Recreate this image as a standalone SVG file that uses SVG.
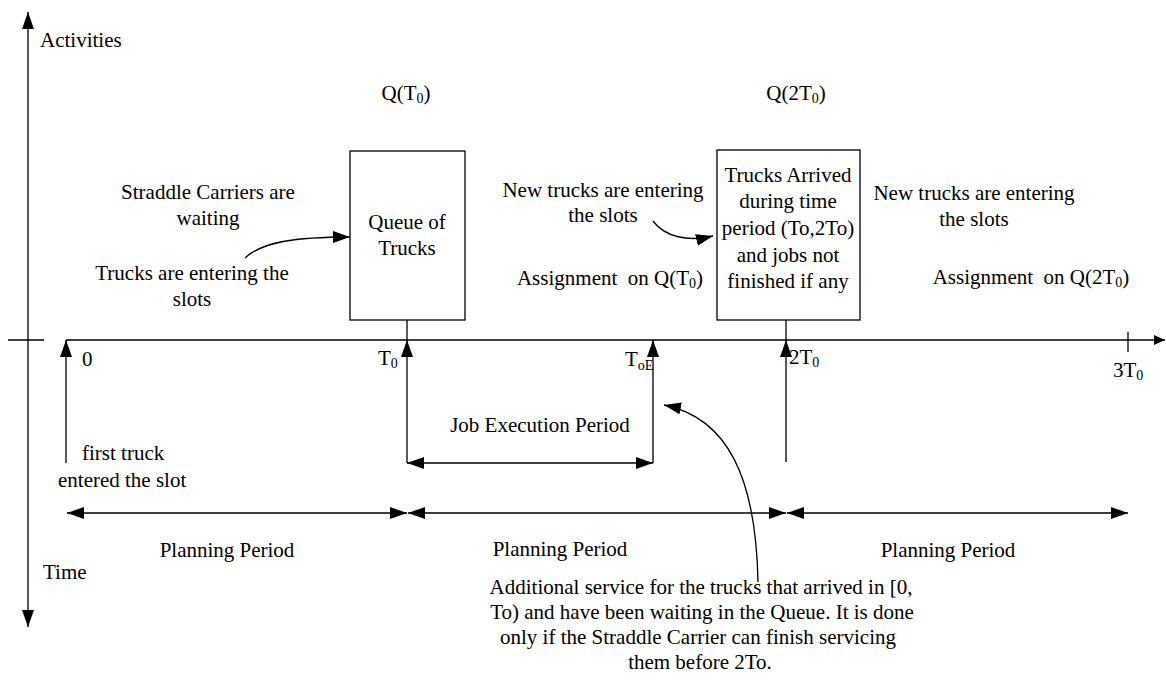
<svg xmlns="http://www.w3.org/2000/svg" width="1166" height="682" viewBox="0 0 1166 682" font-family="'Liberation Serif', 'Times New Roman', serif">
<style>
text{font-family:"Liberation Serif","Times New Roman",serif;font-size:21px;fill:#000;white-space:pre}
.m{text-anchor:middle}
.ln{stroke:#000;stroke-width:1.3;fill:none}
.box{stroke:#000;stroke-width:1.3;fill:#fff}
.sub{font-size:14px}
</style>
<defs>
<marker id="ah" markerUnits="userSpaceOnUse" markerWidth="18" markerHeight="12" refX="17" refY="6" orient="auto-start-reverse">
<path d="M0,0 L17,6 L0,12 z" fill="#000"/>
</marker>
<marker id="ahs" markerUnits="userSpaceOnUse" markerWidth="12" markerHeight="10" refX="11" refY="5" orient="auto-start-reverse">
<path d="M0,0 L11,5 L0,10 z" fill="#000"/>
</marker>
</defs>

<g id="axes">
<line class="ln" x1="28" y1="627" x2="28" y2="12" marker-end="url(#ah)" marker-start="url(#ah)"/>
<line class="ln" x1="8" y1="340" x2="44" y2="340"/>
<line class="ln" x1="66" y1="340" x2="1165" y2="340" marker-end="url(#ahs)"/>
<line class="ln" x1="1128" y1="332" x2="1128" y2="352"/>
<text x="40" y="47">Activities</text>
<text x="43" y="579">Time</text>
<text x="82" y="366">0</text>
<text x="378" y="365">T<tspan class="sub" dy="3">0</tspan></text>
<text x="625" y="366">T<tspan class="sub" dy="4">oE</tspan></text>
<text x="789" y="364">2T<tspan class="sub" dy="3">0</tspan></text>
<text x="1113" y="377">3T<tspan class="sub" dy="3">0</tspan></text>
</g>

<g id="connectors">
<line class="ln" x1="66" y1="463" x2="66" y2="340" marker-end="url(#ah)"/>
<line class="ln" x1="407" y1="320" x2="407" y2="340"/>
<line class="ln" x1="407" y1="463" x2="407" y2="340" marker-end="url(#ah)"/>
<line class="ln" x1="653" y1="463" x2="653" y2="340" marker-end="url(#ah)"/>
<line class="ln" x1="786" y1="320" x2="786" y2="340"/>
<line class="ln" x1="786" y1="462" x2="786" y2="340" marker-end="url(#ah)"/>
<line class="ln" x1="407" y1="463" x2="653" y2="463" marker-start="url(#ah)" marker-end="url(#ah)"/>
<line class="ln" x1="67" y1="513" x2="407" y2="513" marker-start="url(#ah)" marker-end="url(#ah)"/>
<line class="ln" x1="408" y1="513" x2="786" y2="513" marker-start="url(#ah)" marker-end="url(#ah)"/>
<line class="ln" x1="787" y1="513" x2="1128" y2="513" marker-start="url(#ah)" marker-end="url(#ah)"/>
<path class="ln" d="M245,258 C262,242 295,237 350,237" marker-end="url(#ah)"/>
<path class="ln" d="M653,221 C665,237 688,242 713,236" marker-end="url(#ah)"/>
<path class="ln" d="M758,582 C756,478 728,418 664,405" marker-end="url(#ah)"/>
</g>

<g id="queue-box">
<rect class="box" x="350" y="151" width="115" height="169"/>
<text class="m" x="407" y="229">Queue of</text>
<text class="m" x="407" y="255">Trucks</text>
</g>

<g id="arrived-box">
<rect class="box" x="717" y="150" width="143" height="170"/>
<text class="m" x="788" y="182">Trucks Arrived</text>
<text class="m" x="788" y="208">during time</text>
<text class="m" x="788" y="235">period (To,2To)</text>
<text class="m" x="788" y="262">and jobs not</text>
<text class="m" x="788" y="288">finished if any</text>
</g>

<g id="labels">
<text class="m" x="406" y="100">Q(T<tspan class="sub" dy="3">0</tspan><tspan dy="-3">)</tspan></text>
<text class="m" x="796" y="100">Q(2T<tspan class="sub" dy="3">0</tspan><tspan dy="-3">)</tspan></text>
<text class="m" x="208" y="199">Straddle Carriers are</text>
<text class="m" x="208" y="225">waiting</text>
<text class="m" x="192" y="280">Trucks are entering the</text>
<text class="m" x="192" y="306">slots</text>
<text class="m" x="603" y="197">New trucks are entering</text>
<text class="m" x="603" y="222">the slots</text>
<text class="m" x="610" y="285">Assignment  on Q(T<tspan class="sub" dy="3">0</tspan><tspan dy="-3">)</tspan></text>
<text class="m" x="974" y="200">New trucks are entering</text>
<text class="m" x="974" y="226">the slots</text>
<text class="m" x="1031" y="284">Assignment  on Q(2T<tspan class="sub" dy="3">0</tspan><tspan dy="-3">)</tspan></text>
<text x="82" y="460">first truck</text>
<text x="58" y="487">entered the slot</text>
<text class="m" x="540" y="432">Job Execution Period</text>
<text class="m" x="227" y="557">Planning Period</text>
<text class="m" x="560" y="556">Planning Period</text>
<text class="m" x="948" y="557">Planning Period</text>
<text class="m" x="701" y="594">Additional service for the trucks that arrived in [0,</text>
<text class="m" x="702" y="619">To) and have been waiting in the Queue. It is done</text>
<text class="m" x="698" y="644">only if the Straddle Carrier can finish servicing</text>
<text class="m" x="700" y="669">them before 2To.</text>
</g>
</svg>
